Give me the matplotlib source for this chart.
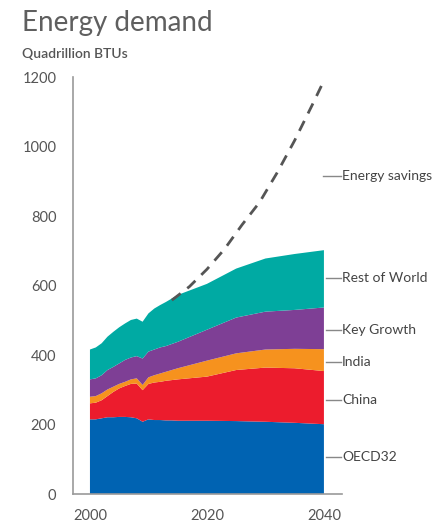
import matplotlib
matplotlib.use("Agg")
import matplotlib.pyplot as plt

plt.rcParams['font.family'] = ['Lato', 'DejaVu Sans']

years = [2000, 2001, 2002, 2003, 2004, 2005, 2006, 2007, 2008, 2009, 2010,
         2011, 2012, 2013, 2014, 2015, 2020, 2025, 2030, 2035, 2040]
oecd = [215, 215, 218, 221, 221, 222, 222, 221, 218, 208, 215,
        213, 213, 212, 212, 211, 211, 210, 208, 205, 201]
china = [46, 48, 52, 61, 73, 82, 89, 96, 100, 91, 102,
         108, 110, 114, 116, 119, 127, 147, 156, 157, 153]
india = [19, 19, 20, 19, 15, 13, 12, 13, 15, 15, 19,
         21, 24, 26, 29, 32, 46, 48, 52, 56, 63]
key_growth = [50, 51, 52, 56, 57, 59, 63, 63, 64, 76, 74,
              74, 75, 74, 75, 76, 89, 103, 109, 112, 120]
rest_world = [86, 89, 92, 96, 101, 104, 105, 108, 108, 106, 110,
              118, 122, 127, 131, 135, 132, 141, 153, 161, 165]

# total demand without efficiency gains
savings_years = [2014, 2017, 2020, 2023, 2026, 2029, 2032, 2035, 2038, 2040]
savings = [558, 597, 647, 705, 775, 840, 925, 1018, 1120, 1190]

names = ['OECD32', 'China', 'India', 'Key Growth', 'Rest of World']
colors = ['#0063b2', '#ec1c2d', '#f6921e', '#7e3f95', '#00aaa3']
label_pos = [106, 270, 380, 472, 622]

fig = plt.figure(figsize=(4.44, 5.25), dpi=100)
ax = fig.add_axes([0.1644, 0.059, 0.606, 0.794])

ax.stackplot(years, oecd, china, india, key_growth, rest_world,
             colors=colors, linewidth=0)
ax.plot(savings_years, savings, color='#555555', lw=2, dashes=(4, 3))

ax.set_xlim(1997.1, 2043.1)
ax.set_ylim(0, 1200)
ax.set_xticks([2000, 2020, 2040])
ax.set_yticks(range(0, 1201, 200))
ax.tick_params(length=0, colors='#555555', labelsize=10.5)
ax.tick_params(axis='y', pad=12)
ax.tick_params(axis='x', pad=11)
for s in ['top', 'right']:
    ax.spines[s].set_visible(False)
for s in ['left', 'bottom']:
    ax.spines[s].set_color('#9a9a9a')
    ax.spines[s].set_linewidth(1.2)

for name, y in zip(names, label_pos):
    ax.plot([2040.3, 2042.9], [y, y], color='#888888', lw=1, clip_on=False)
    ax.text(2043.1, y, name, va='center', ha='left', fontsize=10, color='#444444')
ax.plot([2039.8, 2042.9], [915, 915], color='#888888', lw=1, clip_on=False)
ax.text(2043.1, 915, 'Energy savings', va='center', ha='left', fontsize=10, color='#444444')

fig.text(22 / 444, 1 - 31 / 525, 'Energy demand', fontsize=20, fontweight='normal',
         color='#5f5f5f', va='baseline')
fig.text(22 / 444, 1 - 58 / 525, 'Quadrillion BTUs', fontsize=10, fontweight='semibold',
         color='#555555', va='baseline')

fig.savefig('out.png', dpi=100)
